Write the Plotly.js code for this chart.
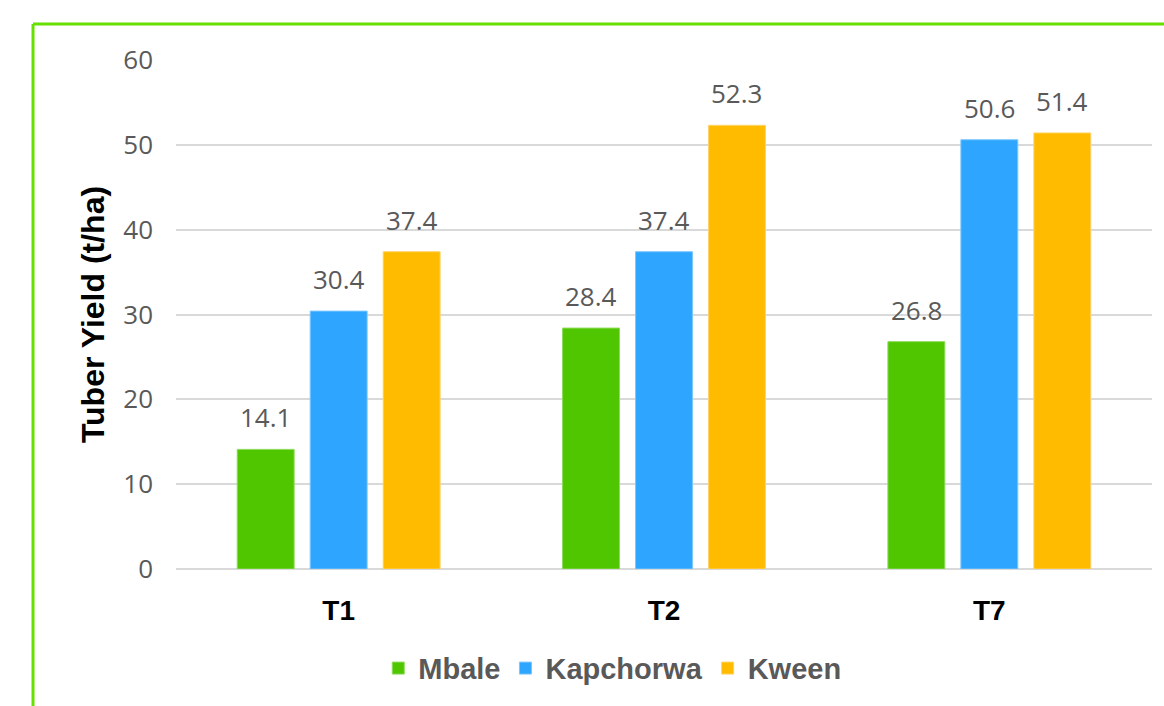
<!DOCTYPE html>
<html>
<head>
<meta charset="utf-8">
<script src="https://cdn.plot.ly/plotly-3.0.1.min.js"></script>
<style>
html,body{margin:0;padding:0;background:#fff;}
#chart{width:1164px;height:706px;}
</style>
</head>
<body>
<div id="chart"></div>
<script>
const categories = ["T1", "T2", "T7"];
const seriesNames = ["Mbale", "Kapchorwa", "Kween"];
const mbale = [14.1, 28.4, 26.8];
const kapchorwa = [30.4, 37.4, 50.6];
const kween = [37.4, 52.3, 51.4];
const yTicks = [0, 10, 20, 30, 40, 50, 60];

const seriesValues = [mbale, kapchorwa, kween];
const colors = ["#4FC600", "#2EA6FF", "#FFBB00"];
const edgeColors = ["#8CDB5A", "#7CC6FF", "#FFD466"];

const bargap = 0.327;
const slot = (1 - bargap) / 3;

const traces = seriesValues.map((vals, j) => ({
  type: "bar",
  name: seriesNames[j],
  x: categories,
  y: vals,
  marker: {color: colors[j], line: {color: edgeColors[j], width: 1}},
  hoverinfo: "x+y+name"
}));

const annotations = [];
seriesValues.forEach((vals, j) => {
  vals.forEach((v, i) => {
    annotations.push({
      x: i + (j - 1) * slot,
      y: v,
      xref: "x",
      yref: "y",
      text: v.toFixed(1),
      showarrow: false,
      yanchor: "bottom",
      xanchor: "center",
      yshift: 12,
      font: {family: "Open Sans, sans-serif", size: 26, color: "#595959"}
    });
  });
});

const layout = {
  width: 1164,
  height: 706,
  margin: {l: 176, r: 12, t: 60, b: 135},
  paper_bgcolor: "#ffffff",
  plot_bgcolor: "#ffffff",
  barmode: "group",
  bargap: bargap,
  bargroupgap: 0.22,
  showlegend: true,
  legend: {
    orientation: "h",
    x: 0.447,
    xanchor: "center",
    y: -0.195,
    yanchor: "middle",
    font: {family: "Liberation Sans, Arial, sans-serif", size: 29, color: "#595959", weight: "bold"},
    traceorder: "normal",
    itemclick: false
  },
  xaxis: {
    type: "category",
    showgrid: false,
    zeroline: false,
    showline: false,
    ticks: "",
    ticklabelstandoff: 22,
    tickfont: {family: "Liberation Sans, Arial, sans-serif", size: 28, color: "#000000", weight: "bold"},
    fixedrange: true
  },
  yaxis: {
    range: [0, 60],
    tickvals: yTicks,
    ticktext: yTicks.map(String),
    showgrid: true,
    gridcolor: "#D9D9D9",
    gridwidth: 2,
    zeroline: true,
    zerolinecolor: "#D9D9D9",
    zerolinewidth: 2,
    showline: false,
    ticks: "",
    ticklabelstandoff: 22,
    tickfont: {family: "Open Sans, sans-serif", size: 26, color: "#595959"},
    title: {
      text: "Tuber Yield (t/ha)",
      standoff: 9,
      font: {family: "Liberation Sans, Arial, sans-serif", size: 32, color: "#000000", weight: "bold"}
    },
    fixedrange: true
  },
  annotations: annotations,
  shapes: [
    {type: "line", xref: "paper", yref: "paper", x0: -0.1465, x1: 1.05, y0: 1.0705, y1: 1.0705,
     line: {color: "#66E000", width: 3}},
    {type: "line", xref: "paper", yref: "paper", x0: -0.1465, x1: -0.1465, y0: 1.0705, y1: -0.3,
     line: {color: "#66E000", width: 3}}
  ]
};

Plotly.newPlot("chart", traces, layout, {displayModeBar: false, staticPlot: true});
</script>
</body>
</html>
